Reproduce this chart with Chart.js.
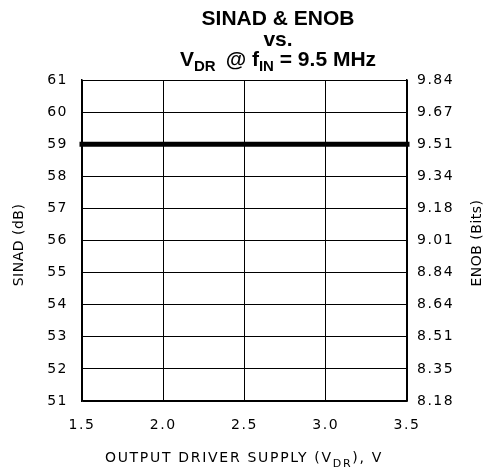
<!DOCTYPE html>
<html>
<head>
<meta charset="utf-8">
<script src="https://cdn.jsdelivr.net/npm/chart.js@4"></script>
<style>
  html, body { margin: 0; padding: 0; background: #fff; }
  #wrap { width: 495px; height: 468px; }
</style>
</head>
<body>
<div id="wrap"><canvas id="myChart" width="495" height="468"></canvas></div>
<script>
// Data
const supplyVolts = [1.5, 2.0, 2.5, 3.0, 3.5];
const sinadValues = [59, 59, 59, 59, 59];
const sinadTicks = [51, 52, 53, 54, 55, 56, 57, 58, 59, 60, 61];
const enobTickLabels = ["8.18", "8.35", "8.51", "8.64", "8.84", "9.01", "9.18", "9.34", "9.51", "9.67", "9.84"];
const xTicks = [1.5, 2.0, 2.5, 3.0, 3.5];

const tickFont = { family: "DejaVu Sans", size: 14 };
const titleFont = "bold 21px 'Liberation Sans', Arial, sans-serif";

// draw a line of text where some parts are subscripts
function drawRich(ctx, parts, cx, y, bigFont, smallFont) {
    let total = 0;
    parts.forEach(p => {
        ctx.font = p.sub ? smallFont : bigFont;
        total += ctx.measureText(p.t).width;
    });
    let x = cx - total / 2;
    parts.forEach(p => {
        ctx.font = p.sub ? smallFont : bigFont;
        ctx.fillText(p.t, x, p.sub ? y + 5 : y);
        x += ctx.measureText(p.t).width;
    });
}

const spacingPlugin = {
    id: "spacingPlugin",
    beforeDraw(chart) {
        // plotter style lettering is spaced a bit wider
        chart.ctx.letterSpacing = "1.5px";
    }
};

const textPlugin = {
    id: "textPlugin",
    afterDraw(chart) {
        const ctx = chart.ctx;
        ctx.save();
        ctx.fillStyle = "#000";
        ctx.textBaseline = "alphabetic";
        ctx.textAlign = "left";

        // title
        ctx.letterSpacing = "0px";
        drawRich(ctx, [{ t: "SINAD & ENOB" }], 278, 25, titleFont, titleFont);
        drawRich(ctx, [{ t: "vs." }], 278, 46, titleFont, titleFont);
        drawRich(ctx, [
            { t: "V" }, { t: "DR ", sub: true }, { t: " @ f" }, { t: "IN", sub: true }, { t: " = 9.5 MHz" }
        ], 278, 66, titleFont, "bold 15px 'Liberation Sans', Arial, sans-serif");

        // x axis title
        ctx.letterSpacing = "1.7px";
        drawRich(ctx, [
            { t: "OUTPUT DRIVER SUPPLY (V" }, { t: "DR", sub: true }, { t: "), V" }
        ], 244, 462, "14px 'DejaVu Sans'", "11px 'DejaVu Sans'");

        // y axis titles
        ctx.letterSpacing = "0.5px";
        ctx.font = "14px 'DejaVu Sans'";
        ctx.textAlign = "center";
        ctx.textBaseline = "middle";
        ctx.translate(19, 245);
        ctx.rotate(-Math.PI / 2);
        ctx.fillText("SINAD (dB)", 0, 0);
        ctx.restore();

        ctx.save();
        ctx.fillStyle = "#000";
        ctx.letterSpacing = "0.5px";
        ctx.font = "14px 'DejaVu Sans'";
        ctx.textAlign = "center";
        ctx.textBaseline = "middle";
        ctx.translate(477, 243);
        ctx.rotate(-Math.PI / 2);
        ctx.fillText("ENOB (Bits)", 0, 0);
        ctx.restore();
    }
};

const ctx = document.getElementById("myChart").getContext("2d");
const myChart = new Chart(ctx, {
    type: "line",
    data: {
        datasets: [{
            label: "SINAD",
            data: supplyVolts.map((v, i) => ({ x: v, y: sinadValues[i] })),
            borderColor: "#000",
            borderWidth: 5,
            borderCapStyle: "square",
            pointRadius: 0,
            tension: 0,
            clip: false,
            yAxisID: "y"
        }]
    },
    options: {
        responsive: false,
        animation: false,
        layout: { padding: { top: 80, left: 0, right: 0, bottom: 0 } },
        plugins: {
            legend: { display: false },
            tooltip: { enabled: false },
            title: { display: false }
        },
        scales: {
            x: {
                type: "linear",
                min: 1.5,
                max: 3.5,
                afterBuildTicks: axis => { axis.ticks = xTicks.map(v => ({ value: v })); },
                afterFit: axis => { axis.height = 67; },
                ticks: {
                    color: "#000",
                    font: tickFont,
                    padding: 16,
                    maxRotation: 0,
                    callback: v => v.toFixed(1)
                },
                grid: { color: "#000", lineWidth: 1, drawTicks: false },
                border: { color: "#000", width: 1.5 }
            },
            y: {
                position: "left",
                min: 51,
                max: 61,
                afterBuildTicks: axis => { axis.ticks = sinadTicks.map(v => ({ value: v })); },
                afterFit: axis => { axis.width = 82; },
                ticks: { color: "#000", font: tickFont, padding: 14 },
                grid: { color: "#000", lineWidth: 1, drawTicks: false },
                border: { color: "#000", width: 1.5 }
            },
            y2: {
                position: "right",
                min: 51,
                max: 61,
                afterBuildTicks: axis => { axis.ticks = sinadTicks.map(v => ({ value: v })); },
                afterFit: axis => { axis.width = 88; },
                ticks: {
                    color: "#000",
                    font: tickFont,
                    padding: 10,
                    callback: (v, i) => enobTickLabels[i]
                },
                grid: { display: false, drawTicks: false },
                border: { color: "#000", width: 1.5 }
            }
        }
    },
    plugins: [spacingPlugin, textPlugin]
});
</script>
</body>
</html>
